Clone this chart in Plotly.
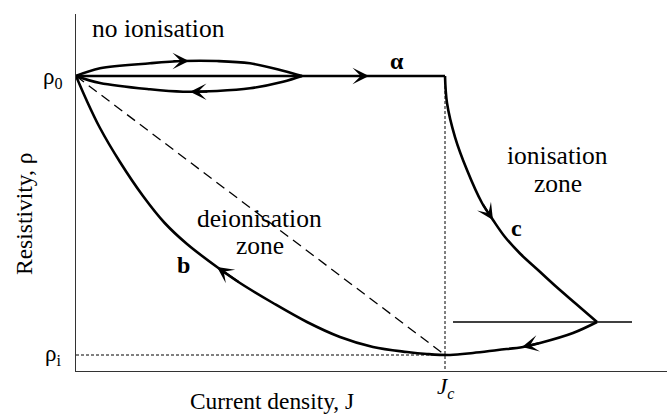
import plotly.graph_objects as go

# Resistivity hysteresis schematic: J in units of Jc, rho in units of rho0
RHO_I = 0.0542
J_MAX = 1.6016
RHO_MAX = 1.2102

# "no ionisation" lens near rho0
lens_j = [0.0, 0.065, 0.2005, 0.29, 0.3821, 0.4715, 0.561, 0.6125]
lens_upper = [1.0, 1.0261, 1.0431, 1.0508, 1.0508, 1.0431, 1.018, 1.0]
lens_lower = [1.0, 0.9763, 0.9549, 0.9468, 0.9492, 0.9583, 0.9807, 1.0]

# path a: flat at rho0 up to Jc
alpha_j = [0.0, 1.0]
alpha_rho = [1.0, 1.0]

# path c: ionisation branch
c_j = [1.0, 1.0054, 1.0271, 1.0596, 1.1003, 1.1301, 1.1626, 1.2033, 1.252,
       1.3008, 1.3523, 1.4119]
c_rho = [1.0, 0.9085, 0.7932, 0.6814, 0.5695, 0.5119, 0.4542, 0.3983, 0.3424,
         0.2864, 0.2305, 0.1661]

# path b: return through rho_i and deionisation back to rho0
b_j = [1.4119, 1.3469, 1.2575, 1.2114, 1.1436, 1.0759, 1.0136, 0.9512, 0.897,
       0.8049, 0.7154, 0.626, 0.5339, 0.4444, 0.3821, 0.3008, 0.2404, 0.1816,
       0.1192, 0.065, 0.0271, 0.0]
b_rho = [0.1661, 0.1288, 0.0949, 0.0814, 0.0712, 0.061, 0.0542, 0.0576, 0.0644,
         0.0814, 0.1153, 0.1661, 0.2305, 0.2983, 0.3525, 0.4305, 0.5017, 0.5932,
         0.7085, 0.8237, 0.922, 1.0]

# horizontal guide through the turning point of c
guide_j = [1.0217, 1.5068]
guide_rho = [0.1661, 0.1661]

# direction arrows: tail and tip positions
arrow_tail_j = [0.26, 0.36, 0.75, 1.1003, 1.2575, 0.4444]
arrow_tail_rho = [1.0508, 0.947, 1.0, 0.5695, 0.0949, 0.2983]
arrow_tip_j = [0.3062, 0.309, 0.794, 1.13, 1.2087, 0.3821]
arrow_tip_rho = [1.0508, 0.9468, 1.0, 0.5119, 0.0814, 0.3525]

SERIF = "Liberation Serif, Times New Roman, Times, serif"
INK = "black"

fig = go.Figure()

def curve(x, y, width=2.6, dash="solid", shape="spline"):
    fig.add_trace(go.Scatter(
        x=x, y=y, mode="lines", hoverinfo="skip", showlegend=False,
        line=dict(color=INK, width=width, dash=dash, shape=shape, smoothing=1.0,
                  simplify=False),
    ))

curve(lens_j, lens_upper)
curve(lens_j, lens_lower)
curve(alpha_j, alpha_rho, width=2.4, shape="linear")
curve(c_j, c_rho)
curve(b_j, b_rho)
curve(guide_j, guide_rho, width=1.4, shape="linear")

# reference guides
curve([0.0, 1.0], [1.0, RHO_I], width=1.3, dash="10px,6px", shape="linear")
curve([1.0, 1.0], [1.0, 0.0], width=1.0, dash="3px,2px", shape="linear")
curve([0.0, 1.0], [RHO_I, RHO_I], width=1.0, dash="3px,2px", shape="linear")

annotations = []
for tj, tr, hj, hr in zip(arrow_tail_j, arrow_tail_rho, arrow_tip_j, arrow_tip_rho):
    annotations.append(dict(
        x=hj, y=hr, ax=tj, ay=tr, xref="x", yref="y", axref="x", ayref="y",
        text="", showarrow=True, arrowhead=3, arrowsize=1.25, arrowwidth=2.2,
        arrowcolor=INK, standoff=0, startstandoff=0,
    ))

def label(x, y, text, size=23, angle=0, bold=False):
    # positions given in data units, placed on the paper so labels
    # outside the axis ranges stay visible
    annotations.append(dict(
        x=x / J_MAX, y=y / RHO_MAX, xref="paper", yref="paper",
        text=f"<b>{text}</b>" if bold else text,
        showarrow=False, textangle=angle, xanchor="center", yanchor="middle",
        font=dict(family=SERIF, size=size, color=INK),
    ))

label(0.2236, 1.16, "no ionisation", size=25.5)
label(1.3062, 0.7322, "ionisation", size=25.5)
label(1.3062, 0.6373, "zone", size=25.5)
label(0.4973, 0.5186, "deionisation", size=25.5)
label(0.4973, 0.4271, "zone", size=25.5)
label(0.87, 1.0508, "α", size=24, bold=True)
label(0.29, 0.3593, "b", size=24, bold=True)
label(1.1951, 0.4847, "c", size=24, bold=True)
label(-0.0623, 0.9932, "ρ<sub>0</sub>", size=23)
label(-0.0623, RHO_I, "ρ<sub>i</sub>", size=23)
label(1.0, -0.0576, "<i>J<sub>c</sub></i>", size=23)
label(0.5312, -0.1017, "Current density, J", size=23.4)
label(-0.1409, 0.5322, "Resistivity, ρ", size=23.5, angle=-90)

axis_common = dict(
    showline=True, linecolor="#333", linewidth=1.3, showgrid=False,
    zeroline=False, showticklabels=False, ticks="", fixedrange=True,
)

fig.update_layout(
    width=667, height=414,
    margin=dict(l=76, r=0, t=14, b=43),
    paper_bgcolor="white", plot_bgcolor="white",
    font=dict(family=SERIF, color=INK),
    xaxis=dict(range=[0, J_MAX], **axis_common),
    yaxis=dict(range=[0, RHO_MAX], **axis_common),
    annotations=annotations,
    showlegend=False,
)

fig.write_html("out.html")
